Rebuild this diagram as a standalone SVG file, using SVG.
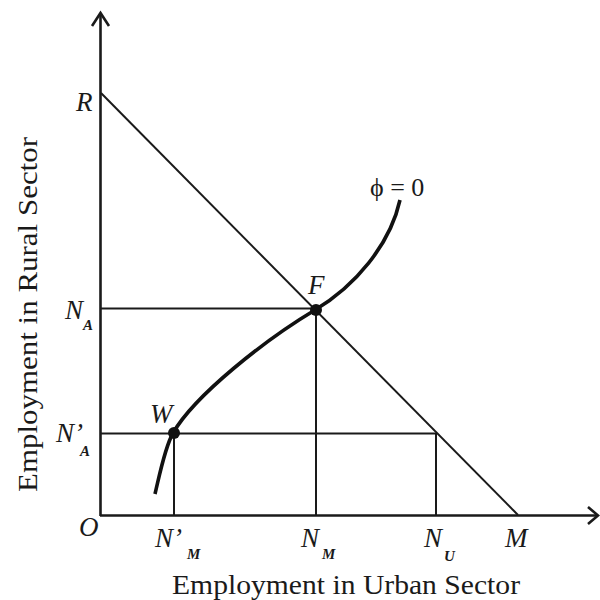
<svg xmlns="http://www.w3.org/2000/svg" width="600" height="600" viewBox="0 0 600 600">
<style>
.ax{stroke:#1a1a1a;stroke-width:2.6;fill:none}
.ln{stroke:#1a1a1a;stroke-width:2;fill:none}
.cv{stroke:#111;stroke-width:3.6;fill:none;stroke-linecap:butt}
.lb{font-family:"Liberation Serif","DejaVu Serif",serif;font-style:italic;font-size:27px;fill:#1a1a1a}
.sb{font-family:"Liberation Serif","DejaVu Serif",serif;font-style:italic;font-weight:bold;font-size:15px;fill:#1a1a1a}
.tt{font-family:"Liberation Serif","DejaVu Serif",serif;font-size:27px;fill:#1a1a1a}
</style>
<rect width="600" height="600" fill="#fff"/>
<g id="connectors">
<path class="ax" d="M100.5,516 V13"/>
<path class="ax" d="M92,26 L100.5,13 L109,26"/>
<path class="ax" d="M100,515.5 H598"/>
<path class="ax" d="M588,507 L598,515.5 L588,524"/>
<path class="ln" d="M101,93 L518,515"/>
<path class="ln" d="M101,308.5 H316"/>
<path class="ln" d="M316,310 V515"/>
<path class="ln" d="M101,433.5 H437"/>
<path class="ln" d="M436,433.5 V515"/>
<path class="ln" d="M174,433 V515"/>
<path id="phi-curve" class="cv" d="M155,494 C160,473 165,447 173,433 C195,395 265,340 315,310 C355,286 390,245 400,200"/>
</g>
<g id="node-F"><circle cx="316" cy="310" r="6" fill="#111"/><text class="lb" x="308" y="294">F</text></g>
<g id="node-W"><circle cx="174" cy="433" r="6" fill="#111"/><text class="lb" x="150" y="423">W</text></g>
<g id="label-phi"><text x="370" y="196" font-family="Liberation Serif, DejaVu Serif, serif" font-size="26" fill="#1a1a1a">ϕ = 0</text></g>
<g id="label-R"><text class="lb" x="76" y="111">R</text></g>
<g id="label-NA"><text class="lb" x="65" y="319">N</text><text class="sb" x="83" y="330">A</text></g>
<g id="label-NpA"><text class="lb" x="56" y="442">N’</text><text class="sb" x="80" y="456">A</text></g>
<g id="label-O"><text class="lb" x="79" y="536">O</text></g>
<g id="label-NpM"><text class="lb" x="155" y="547">N’</text><text class="sb" x="187" y="559">M</text></g>
<g id="label-NM"><text class="lb" x="301" y="547">N</text><text class="sb" x="322" y="559">M</text></g>
<g id="label-NU"><text class="lb" x="424" y="547">N</text><text class="sb" x="444" y="561">U</text></g>
<g id="label-M"><text class="lb" x="505" y="547">M</text></g>
<g id="axis-titles">
<text class="tt" x="172" y="594" textLength="348" lengthAdjust="spacingAndGlyphs">Employment in Urban Sector</text>
<text class="tt" transform="translate(37,492) rotate(-90)" x="0" y="0" textLength="355" lengthAdjust="spacingAndGlyphs">Employment in Rural Sector</text>
</g>
</svg>
